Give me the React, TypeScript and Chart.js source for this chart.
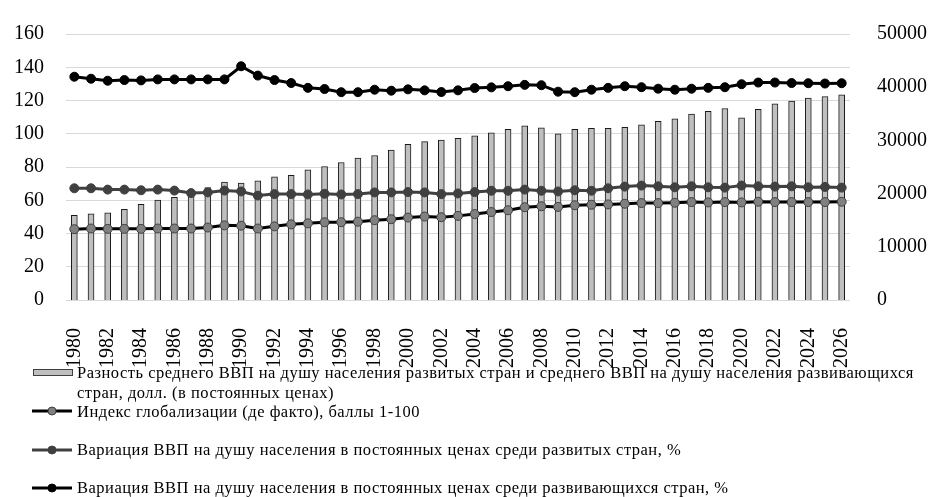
import React, { useEffect, useRef } from "react";
import { Chart, registerables } from "chart.js";

Chart.register(...registerables);

const years: string[] = [];
for (let y = 1980; y <= 2026; y++) years.push(String(y));

const gapValues = [
  15900, 16220, 16400, 17060, 17970, 18780, 19310, 20000, 21130, 22160,
  21970, 22410, 23130, 23440, 24470, 25090, 25840, 26690, 27160, 28160,
  29250, 29780, 30060, 30380, 30880, 31410, 32090, 32750, 32380, 31250,
  32090, 32250, 32250, 32440, 32940, 33590, 34060, 34970, 35470, 36000,
  34250, 35840, 36880, 37410, 37940, 38250, 38560,
];

const globIndex = [
  42.6, 43.0, 42.8, 42.8, 42.8, 43.0, 43.0, 43.0, 43.6, 44.9,
  44.7, 43.0, 44.3, 45.5, 46.1, 46.8, 46.8, 47.1, 48.0, 48.6,
  49.6, 50.2, 49.8, 50.6, 51.7, 52.9, 54.0, 55.8, 56.4, 56.0,
  57.0, 57.3, 57.5, 57.9, 58.3, 58.3, 58.5, 58.9, 58.7, 58.9,
  58.7, 59.1, 58.9, 58.9, 58.9, 58.9, 59.1,
];

const varDeveloped = [
  67.2, 67.2, 66.4, 66.4, 66.0, 66.4, 65.8, 64.3, 64.7, 65.8,
  65.3, 62.8, 63.7, 63.7, 63.5, 63.9, 63.5, 63.7, 64.7, 64.7,
  64.9, 64.7, 63.7, 64.1, 64.9, 65.7, 65.7, 66.4, 65.7, 65.3,
  66.0, 65.7, 67.2, 68.2, 68.8, 68.4, 67.8, 68.4, 67.8, 67.6,
  68.8, 68.4, 68.2, 68.4, 67.8, 68.0, 67.6,
];

const varDeveloping = [
  134.3, 133.1, 131.9, 132.3, 132.1, 132.7, 132.7, 132.7, 132.7, 132.7,
  140.6, 135.0, 132.3, 130.5, 127.6, 126.9, 125.0, 125.0, 126.5, 125.9,
  126.7, 126.1, 125.1, 126.1, 127.5, 127.9, 128.6, 129.4, 129.2, 125.3,
  125.0, 126.5, 127.6, 128.6, 128.0, 127.1, 126.5, 127.1, 127.6, 128.0,
  129.8, 130.8, 130.8, 130.5, 130.4, 130.2, 130.4,
];

const legendLabels = [
  "Разность среднего ВВП на душу населения развитых стран и среднего ВВП на душу населения развивающихся",
  "стран, долл. (в постоянных ценах)",
  "Индекс глобализации (де факто), баллы 1-100",
  "Вариация ВВП на душу населения в постоянных ценах среди развитых стран, %",
  "Вариация ВВП на душу населения в постоянных ценах среди развивающихся стран, %",
];

const FONT = "'Liberation Serif', 'Times New Roman', serif";

function LineSwatch({ line, fill, border }: { line: string; fill: string; border: string }) {
  return (
    <svg width="42" height="12" style={{ position: "absolute", left: 31, top: -6 }}>
      <line x1="1" y1="6" x2="41" y2="6" stroke={line} strokeWidth="3" />
      <circle cx="21" cy="6" r="4" fill={fill} stroke={border} strokeWidth="1" />
    </svg>
  );
}

export default function App() {
  const ref = useRef<HTMLCanvasElement | null>(null);

  useEffect(() => {
    if (!ref.current) return;
    const chart = new Chart(ref.current, {
      type: "bar",
      data: {
        labels: years,
        datasets: [
          {
            type: "line",
            label: legendLabels[4],
            data: varDeveloping,
            yAxisID: "y",
            borderColor: "#000000",
            backgroundColor: "#000000",
            borderWidth: 3,
            pointRadius: 4.5,
            pointBorderWidth: 1,
            pointBackgroundColor: "#000000",
            pointBorderColor: "#000000",
            tension: 0,
            order: 1,
          },
          {
            type: "line",
            label: legendLabels[3],
            data: varDeveloped,
            yAxisID: "y",
            borderColor: "#404040",
            backgroundColor: "#404040",
            borderWidth: 3,
            pointRadius: 4.5,
            pointBorderWidth: 1,
            pointBackgroundColor: "#404040",
            pointBorderColor: "#404040",
            tension: 0,
            order: 2,
          },
          {
            type: "line",
            label: legendLabels[2],
            data: globIndex,
            yAxisID: "y",
            borderColor: "#000000",
            backgroundColor: "#808080",
            borderWidth: 3,
            pointRadius: 4.5,
            pointBorderWidth: 1,
            pointBackgroundColor: "#808080",
            pointBorderColor: "#404040",
            tension: 0,
            order: 3,
          },
          {
            type: "bar",
            label: legendLabels[0],
            data: gapValues,
            yAxisID: "y1",
            backgroundColor: "#bfbfbf",
            borderColor: "#1a1a1a",
            borderWidth: 1,
            barThickness: 6,
            order: 4,
          },
        ],
      },
      options: {
        responsive: false,
        animation: false,
        events: [],
        layout: { padding: { top: 25, left: 0, right: 0, bottom: 0 } },
        plugins: { legend: { display: false }, tooltip: { enabled: false } },
        scales: {
          x: {
            type: "category",
            offset: true,
            grid: { display: false },
            border: { display: false },
            afterFit: (s: any) => {
              s.height = 70;
            },
            ticks: {
              autoSkip: false,
              minRotation: 90,
              maxRotation: 90,
              padding: 20,
              color: "#000",
              font: { family: FONT, size: 20 },
              callback: (_v: any, i: number) => (i % 2 === 0 ? years[i] : ""),
            },
          },
          y: {
            position: "left",
            min: 0,
            max: 160,
            grid: { color: "#d9d9d9", lineWidth: 1, drawTicks: false },
            border: { display: false },
            afterFit: (s: any) => {
              s.width = 66;
            },
            ticks: {
              stepSize: 20,
              padding: 22,
              color: "#000",
              font: { family: FONT, size: 20 },
              callback: (v: any) => String(v),
            },
          },
          y1: {
            position: "right",
            min: 0,
            max: 50000,
            grid: { display: false },
            border: { display: false },
            afterFit: (s: any) => {
              s.width = 80;
            },
            ticks: {
              stepSize: 10000,
              padding: 19,
              color: "#000",
              font: { family: FONT, size: 20 },
              callback: (v: any) => String(v),
            },
          },
        },
      },
    });
    return () => chart.destroy();
  }, []);

  const textStyle: React.CSSProperties = {
    position: "absolute",
    left: 77,
    whiteSpace: "nowrap",
    fontFamily: FONT,
    fontSize: 16.5,
    letterSpacing: "0.5px",
    lineHeight: "20px",
    color: "#000",
    transform: "translateY(-10px)",
  };

  return (
    <div style={{ position: "absolute", left: 0, top: 0, width: 930, height: 497, background: "#fff", overflow: "hidden" }}>
      <canvas ref={ref} width={930} height={370} style={{ position: "absolute", left: 0, top: 0 }} />
      <div style={{ position: "absolute", left: 0, top: 0, width: 930, height: 497 }}>
        <div style={{ position: "absolute", left: 33, top: 369, width: 38, height: 5, background: "#bfbfbf", border: "1px solid #404040" }} />
        <div style={{ ...textStyle, top: 373 }}>{legendLabels[0]}</div>
        <div style={{ ...textStyle, top: 393 }}>{legendLabels[1]}</div>
        <div style={{ position: "absolute", left: 0, top: 411 }}>
          <LineSwatch line="#000000" fill="#808080" border="#404040" />
        </div>
        <div style={{ ...textStyle, top: 412 }}>{legendLabels[2]}</div>
        <div style={{ position: "absolute", left: 0, top: 450 }}>
          <LineSwatch line="#404040" fill="#404040" border="#404040" />
        </div>
        <div style={{ ...textStyle, top: 450 }}>{legendLabels[3]}</div>
        <div style={{ position: "absolute", left: 0, top: 488 }}>
          <LineSwatch line="#000000" fill="#000000" border="#000000" />
        </div>
        <div style={{ ...textStyle, top: 488 }}>{legendLabels[4]}</div>
      </div>
    </div>
  );
}
